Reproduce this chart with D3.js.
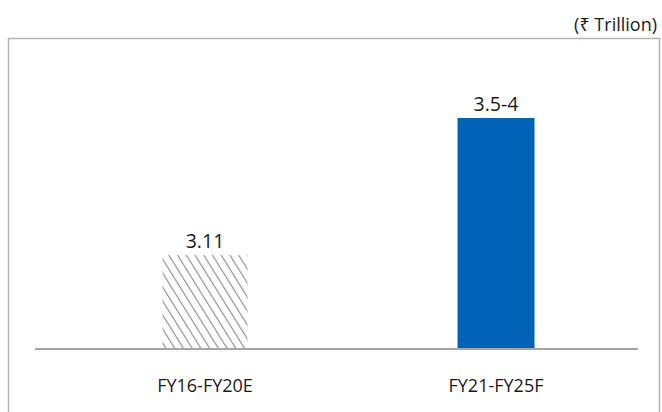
<!DOCTYPE html>
<html>
<head>
<meta charset="utf-8">
<script src="https://cdn.jsdelivr.net/npm/d3@7"></script>
<style>
  html, body { margin: 0; padding: 0; background: #fff; }
  svg { display: block; }
  text { font-family: "Open Sans", "Noto Sans", sans-serif; fill: #1a1a1a; }
</style>
</head>
<body>
<svg id="chart" width="662" height="412"></svg>
<script>
// Periods, plotted values and the labels printed above each bar
const categories = ["FY16-FY20E", "FY21-FY25F"];
const values = [3.11, 4];
const valueLabels = ["3.11", "3.5-4"];
const unitLabel = "(₹ Trillion)";

const svg = d3.select("#chart");

// Frame around the plot
svg.append("rect")
  .attr("x", 8.5).attr("y", 38.5)
  .attr("width", 651).attr("height", 400)
  .attr("fill", "none")
  .attr("stroke", "#b3b3b3")
  .attr("stroke-width", 1.5);

// Unit note, top right
svg.append("text")
  .attr("x", 657).attr("y", 31)
  .attr("text-anchor", "end")
  .attr("font-size", 18)
  .text(unitLabel);

const baseY = 349;
const y = d3.scaleLinear().domain([2.5, 4.5]).range([baseY, 41]);
const x = d3.scalePoint().domain(categories).range([205, 496]);
const barW = [85, 77];

// Hatch pattern for the historical bar
const defs = svg.append("defs");
const pat = defs.append("pattern")
  .attr("id", "hatch")
  .attr("patternUnits", "userSpaceOnUse")
  .attr("width", 7.4).attr("height", 7.4)
  .attr("patternTransform", "rotate(-32)");
pat.append("line")
  .attr("x1", 0).attr("y1", -1).attr("x2", 0).attr("y2", 9)
  .attr("stroke", "#8f8f8f").attr("stroke-width", 2.3);

const fills = ["url(#hatch)", "#0063b5"];

svg.selectAll("rect.bar")
  .data(values)
  .join("rect")
  .attr("class", "bar")
  .attr("x", (d, i) => x(categories[i]) - barW[i] / 2)
  .attr("y", d => y(d))
  .attr("width", (d, i) => barW[i])
  .attr("height", d => baseY - y(d))
  .attr("fill", (d, i) => fills[i]);

// Value labels
svg.selectAll("text.val")
  .data(values)
  .join("text")
  .attr("class", "val")
  .attr("x", (d, i) => x(categories[i]))
  .attr("y", d => y(d) - 7)
  .attr("text-anchor", "middle")
  .attr("font-size", 19.5)
  .text((d, i) => valueLabels[i]);

// Baseline axis with category labels
const axis = svg.append("g").attr("transform", `translate(0,${baseY})`);
axis.append("line")
  .attr("x1", 35).attr("x2", 638)
  .attr("stroke", "#a6a6a6").attr("stroke-width", 1.8);
axis.selectAll("text.cat")
  .data(categories)
  .join("text")
  .attr("class", "cat")
  .attr("x", d => x(d))
  .attr("y", 43)
  .attr("text-anchor", "middle")
  .attr("font-size", 18)
  .text(d => d);
</script>
</body>
</html>
